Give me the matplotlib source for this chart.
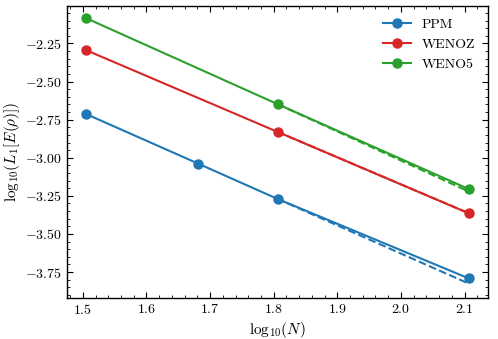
import numpy as np
import matplotlib
matplotlib.use("Agg")
import matplotlib.pyplot as plt
from matplotlib.ticker import MultipleLocator

plt.rcParams.update({
    "font.family": "serif",
    "font.serif": ["cmr10"],
    "mathtext.fontset": "cm",
    "axes.formatter.use_mathtext": True,
    "font.size": 10,
    "xtick.direction": "in",
    "ytick.direction": "in",
    "xtick.top": True,
    "ytick.right": True,
    "xtick.minor.visible": True,
    "ytick.minor.visible": True,
    "xtick.major.size": 4,
    "ytick.major.size": 4,
    "xtick.minor.size": 2,
    "ytick.minor.size": 2,
    "axes.linewidth": 1.0,
})

# Data (log10 N, log10 L1 error)
ppm_x = [1.505, 1.681, 1.806, 2.107]
ppm_y = [-2.713, -3.038, -3.270, -3.792]
wenoz_x = [1.505, 1.806, 2.107]
wenoz_y = [-2.294, -2.830, -3.365]
weno5_x = [1.505, 1.806, 2.107]
weno5_y = [-2.084, -2.648, -3.206]

# Dashed reference (extrapolated) lines
ppm_ref_x = [1.806, 2.107]
ppm_ref_y = [-3.270, -3.826]
wenoz_ref_x = [1.806, 2.107]
wenoz_ref_y = [-2.830, -3.364]
weno5_ref_x = [1.806, 2.107]
weno5_ref_y = [-2.648, -3.222]

c_ppm, c_wz, c_w5 = "#1f77b4", "#d62728", "#2ca02c"

fig = plt.figure(figsize=(4.98, 3.39), dpi=100)
ax = fig.add_axes([0.1345, 0.121, 0.8455, 0.861])

ax.plot(ppm_x, ppm_y, "-o", color=c_ppm, lw=1.5, ms=6.5, label="PPM")
ax.plot(wenoz_x, wenoz_y, "-o", color=c_wz, lw=1.5, ms=6.5, label="WENOZ")
ax.plot(weno5_x, weno5_y, "-o", color=c_w5, lw=1.5, ms=6.5, label="WENO5")

ax.plot(ppm_ref_x, ppm_ref_y, "--", color=c_ppm, lw=1.5)
ax.plot(wenoz_ref_x, wenoz_ref_y, "--", color=c_wz, lw=1.5)
ax.plot(weno5_ref_x, weno5_ref_y, "--", color=c_w5, lw=1.5)

ax.xaxis.set_major_locator(MultipleLocator(0.1))
ax.xaxis.set_minor_locator(MultipleLocator(0.02))
ax.yaxis.set_major_locator(MultipleLocator(0.25))
ax.yaxis.set_minor_locator(MultipleLocator(0.05))
ax.set_xlim(1.475, 2.137)
ax.set_ylim(-3.92, -2.005)

ax.set_xlabel(r"$\mathrm{log}_{10}(N)$", fontsize=11, labelpad=2)
ax.set_ylabel(r"$\mathrm{log}_{10}(L_1[E(\rho)])$", fontsize=11, labelpad=2)

ax.legend(loc="upper right", frameon=False, fontsize=10)

fig.savefig("out.png", dpi=100)
